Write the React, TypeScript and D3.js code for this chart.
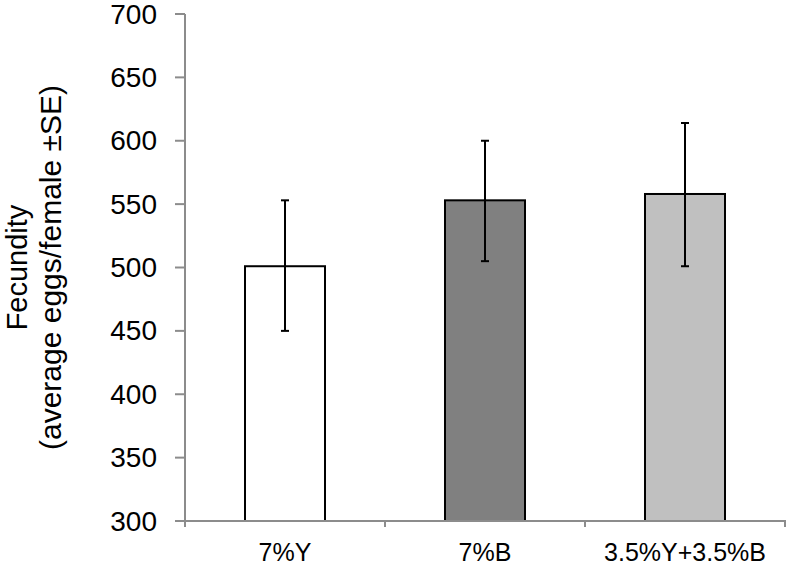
import React from "react";
import * as d3 from "d3";

const categories = ["7%Y", "7%B", "3.5%Y+3.5%B"];
const means = [501, 553, 558];
const errLow = [450, 505, 501];
const errHigh = [553, 600, 614];
const fills = ["#ffffff", "#808080", "#c0c0c0"];
const yTicks = [300, 350, 400, 450, 500, 550, 600, 650, 700];

const W = 788;
const H = 567;
const FONT = "'Liberation Sans', Arial, sans-serif";

export default function App() {
  const x = d3
    .scaleBand<string>()
    .domain(categories)
    .range([185, 785])
    .paddingInner(0.6)
    .paddingOuter(0.3);
  const y = d3.scaleLinear().domain([300, 700]).range([521, 14]);
  const step = x.step();
  const boundaries = d3.range(categories.length + 1).map((i) => 185 + i * step);
  const axisColor = "#8c8c8c";

  return (
    <svg
      width={W}
      height={H}
      style={{ position: "absolute", left: 0, top: 0, background: "#fff" }}
      fontFamily={FONT}
    >
      {/* y axis */}
      <line x1={185} x2={185} y1={y(700)} y2={527} stroke={axisColor} strokeWidth={2} />
      {yTicks.map((t) => (
        <g key={t}>
          <line x1={175} x2={185} y1={y(t)} y2={y(t)} stroke={axisColor} strokeWidth={2} />
          <text
            x={157}
            y={y(t)}
            textAnchor="end"
            dominantBaseline="central"
            fontSize={28}
            fill="#000"
          >
            {t}
          </text>
        </g>
      ))}
      {/* bars */}
      {categories.map((c, i) => (
        <rect
          key={c}
          x={x(c)!}
          y={y(means[i])}
          width={x.bandwidth()}
          height={y(300) - y(means[i])}
          fill={fills[i]}
          stroke="#000"
          strokeWidth={2}
        />
      ))}
      {/* x axis */}
      <line x1={185} x2={786} y1={y(300)} y2={y(300)} stroke={axisColor} strokeWidth={2} />
      {boundaries.map((b, i) => (
        <line key={i} x1={b} x2={b} y1={y(300)} y2={527} stroke={axisColor} strokeWidth={2} />
      ))}
      {/* error bars */}
      {categories.map((c, i) => {
        const cx = x(c)! + x.bandwidth() / 2;
        return (
          <g key={c} stroke="#000" strokeWidth={2}>
            <line x1={cx} x2={cx} y1={y(errLow[i])} y2={y(errHigh[i])} />
            <line x1={cx - 4} x2={cx + 4} y1={y(errLow[i])} y2={y(errLow[i])} />
            <line x1={cx - 4} x2={cx + 4} y1={y(errHigh[i])} y2={y(errHigh[i])} />
          </g>
        );
      })}
      {/* category labels */}
      {categories.map((c) => (
        <text
          key={c}
          x={x(c)! + x.bandwidth() / 2}
          y={561}
          textAnchor="middle"
          fontSize={25}
          fill="#000"
        >
          {c}
        </text>
      ))}
      {/* y title */}
      <g transform={`translate(27, ${(y(300) + y(700)) / 2}) rotate(-90)`}>
        <text textAnchor="middle" fontSize={29} fill="#000">
          Fecundity
        </text>
      </g>
      <g transform={`translate(61, ${(y(300) + y(700)) / 2}) rotate(-90)`}>
        <text textAnchor="middle" fontSize={30} fill="#000">
          (average eggs/female ±SE)
        </text>
      </g>
    </svg>
  );
}
